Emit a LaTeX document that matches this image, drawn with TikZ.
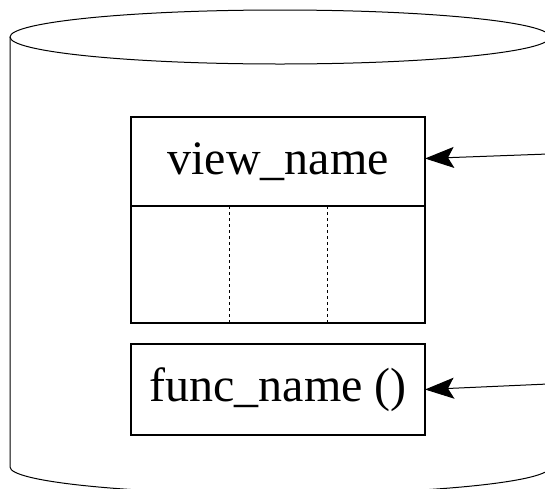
\documentclass[tikz,border=0pt]{standalone}
\usepackage{fontspec}
\setmainfont{Liberation Serif}
\usetikzlibrary{positioning,calc,arrows.meta}

\begin{document}
\begin{tikzpicture}[x=1pt, y=-1pt, node distance=0pt]
    \useasboundingbox (0,0) rectangle (545,488);
    % database cylinder
    \draw [line width=1pt] (280,37) ellipse [x radius=270pt, y radius=27pt];
    \draw [line width=1pt] (10,37) -- (10,467) arc [start angle=180, end angle=360, x radius=270pt, y radius=27pt] -- (550,37);

    \node (view) [draw, rectangle, line width=1.6pt, outer sep=0pt, minimum width=294pt, minimum height=89pt, font=\fontsize{48}{58}\selectfont] at (278,161.5) {view\_name};
    \node (cols) [draw, rectangle, line width=1.6pt, outer sep=0pt, minimum width=294pt, minimum height=117pt, below=of view] {};
    \node (func) [draw, rectangle, line width=1.6pt, outer sep=0pt, minimum width=294pt, minimum height=91pt, below=21pt of cols, font=\fontsize{48}{58}\selectfont] {func\_name ()};

    \draw [line width=1pt, dash pattern=on 3pt off 3pt] ($(cols.north west)!1/3!(cols.north east)$) -- ($(cols.south west)!1/3!(cols.south east)$);
    \draw [line width=1pt, dash pattern=on 3pt off 3pt] ($(cols.north west)!2/3!(cols.north east)$) -- ($(cols.south west)!2/3!(cols.south east)$);

    \coordinate (viewsrc) at (548,154);
    \coordinate (funcsrc) at (548,384);
    \draw [-{Stealth[length=29pt, width=21pt, inset=6pt]}, line width=1pt] (viewsrc) -- ($(view.east)+(0,-3)$);
    \draw [-{Stealth[length=29pt, width=21pt, inset=6pt]}, line width=1pt] (funcsrc) -- (func.east);
\end{tikzpicture}
\end{document}
